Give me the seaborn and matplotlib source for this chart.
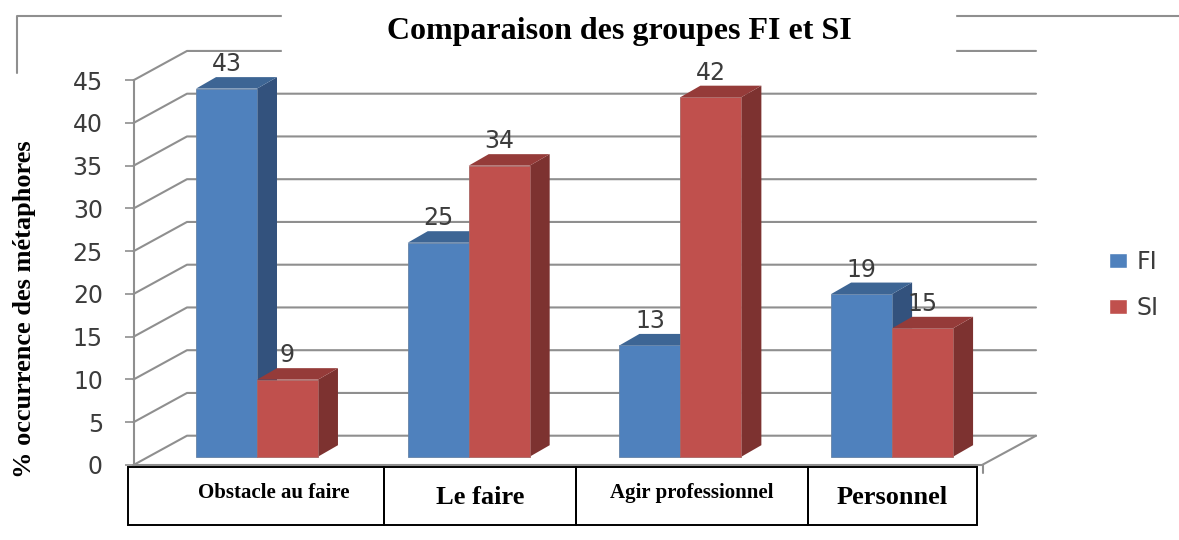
import matplotlib
matplotlib.use('Agg')
import matplotlib.pyplot as plt
import seaborn as sns
import pandas as pd
from matplotlib.patches import Polygon, Rectangle

categories = ['Obstacle au faire', 'Le faire', 'Agir professionnel', 'Personnel']
fi_values = [43, 25, 13, 19]
si_values = [9, 34, 42, 15]
y_ticks = [0, 5, 10, 15, 20, 25, 30, 35, 40, 45]

df = pd.DataFrame({'categorie': categories * 2,
                   'valeur': fi_values + si_values,
                   'groupe': ['FI'] * 4 + ['SI'] * 4})

W, H = 1179, 540
GRID = '#8f8f8f'
FACES = {'FI': ('#4f81bd', '#33527d', '#3d6594'), 'SI': ('#c0504d', '#7d3230', '#953b39')}

sns.set_theme(style='white')
plt.rcParams['font.family'] = ['DejaVu Sans']
fig = plt.figure(figsize=(W / 100, H / 100), dpi=100, facecolor='white')


def box(left, top, right, bottom):
    # pixels (origine en haut a gauche) -> position de figure
    return [left / W, 1 - bottom / H, (right - left) / W, (bottom - top) / H]


# fond : murs, grille, cadre, tableau des categories (en pixels)
deco = fig.add_axes([0, 0, 1, 1], zorder=0)
deco.set_xlim(0, W)
deco.set_ylim(H, 0)
deco.axis('off')

front_x, front_y0, back_x, back_y0, right_x = 133.5, 465, 187, 435.7, 1036
px_unit = 8.55
for v in y_ticks:
    yb = back_y0 - v * px_unit
    yf = front_y0 - v * px_unit
    deco.plot([front_x, back_x, right_x], [yf, yb, yb], color=GRID, lw=1.5, zorder=1)
deco.plot([front_x, 982, right_x], [front_y0, front_y0, back_y0], color=GRID, lw=1.5, zorder=1)
deco.plot([983, 983], [465, 473], color=GRID, lw=1.5, zorder=1)

# cadre autour du graphique, coupe par le titre
deco.plot([17, 17, W], [73, 16, 16], color=GRID, lw=1.5, zorder=1)
deco.add_patch(Rectangle((282, 0), 673, 60, color='white', zorder=2))
deco.text(619, 31, 'Comparaison des groupes FI et SI', family='Liberation Serif', weight='bold',
          fontsize=23, color='black', ha='center', va='center', zorder=3)

# tableau sous l'axe
cell_edges = [128, 384, 576, 808, 977]
label_pos = [(274, 493, 15), (480, 497, 19), (692, 493, 15), (892, 497, 19)]
for i, cat in enumerate(categories):
    deco.add_patch(Rectangle((cell_edges[i], 467), cell_edges[i + 1] - cell_edges[i], 58,
                             fill=False, edgecolor='black', lw=1.4, zorder=3))
    x, y, size = label_pos[i]
    deco.text(x, y, cat, family='Liberation Serif', weight='bold', fontsize=size,
              color='black', ha='center', va='center', zorder=3)

# axe Y
ax_y = fig.add_axes(box(front_x, 80, 982, front_y0), zorder=1)
ax_y.patch.set_alpha(0)
ax_y.set_ylim(0, 45)
ax_y.set_xticks([])
ax_y.set_yticks(y_ticks)
ax_y.tick_params(axis='y', left=True, length=6.5, width=1.2, color=GRID, pad=15.5,
                 labelsize=17, labelcolor='#3c3c3c')
for name in ['top', 'right', 'bottom']:
    ax_y.spines[name].set_visible(False)
ax_y.spines['left'].set_color(GRID)
ax_y.spines['left'].set_linewidth(1.5)
ax_y.set_ylabel('% occurrence des métaphores', family='Liberation Serif', weight='bold',
                fontsize=19, color='black')
ax_y.yaxis.set_label_coords((36 - front_x) / (982 - front_x), (465 - 309) / 385)

# barres
ax_bar = fig.add_axes([0, 0, 1, 1], zorder=2)
ax_bar.patch.set_alpha(0)
sns.barplot(data=df, x='categorie', y='valeur', hue='groupe', order=categories,
            palette={k: v[0] for k, v in FACES.items()}, saturation=1, width=0.576,
            ax=ax_bar)
group_px = 211.7
ax_bar.set_xlim(-257 / group_px, (W - 257) / group_px)
ax_bar.set_ylim(-(H - 456.7) / 8.56, 456.7 / 8.56)
ax_bar.axis('off')

depth_x = 20 / group_px
depth_y = 11.5 / 8.56
for order, (name, cont) in enumerate(zip(['FI', 'SI'], ax_bar.containers)):
    front, side, top = FACES[name]
    for bar in cont:
        x0, w, h = bar.get_x(), bar.get_width(), bar.get_height()
        x1 = x0 + w
        bar.set_zorder(3 + 2 * order)
        bar.set_edgecolor(sns.desaturate(front, 0.6))
        bar.set_linewidth(0.6)
        ax_bar.add_patch(Polygon([(x1, 0), (x1 + depth_x, depth_y), (x1 + depth_x, h + depth_y), (x1, h)],
                                 closed=True, facecolor=side, edgecolor='none', zorder=2 + 2 * order))
        ax_bar.add_patch(Polygon([(x0, h), (x0 + depth_x, h + depth_y), (x1 + depth_x, h + depth_y), (x1, h)],
                                 closed=True, facecolor=top, edgecolor='none', zorder=2 + 2 * order))
    ax_bar.bar_label(cont, padding=9, fontsize=17, color='#3c3c3c', zorder=10)

ax_bar.legend(loc='upper left', bbox_to_anchor=(1109 / W, 1 - 250 / H), bbox_transform=fig.transFigure,
              frameon=False, fontsize=17, handlelength=0.76, handleheight=0.6, handletextpad=0.42,
              labelspacing=0.93, borderpad=0, borderaxespad=0, labelcolor='#3c3c3c')

fig.savefig('out.png', dpi=100, facecolor='white')
